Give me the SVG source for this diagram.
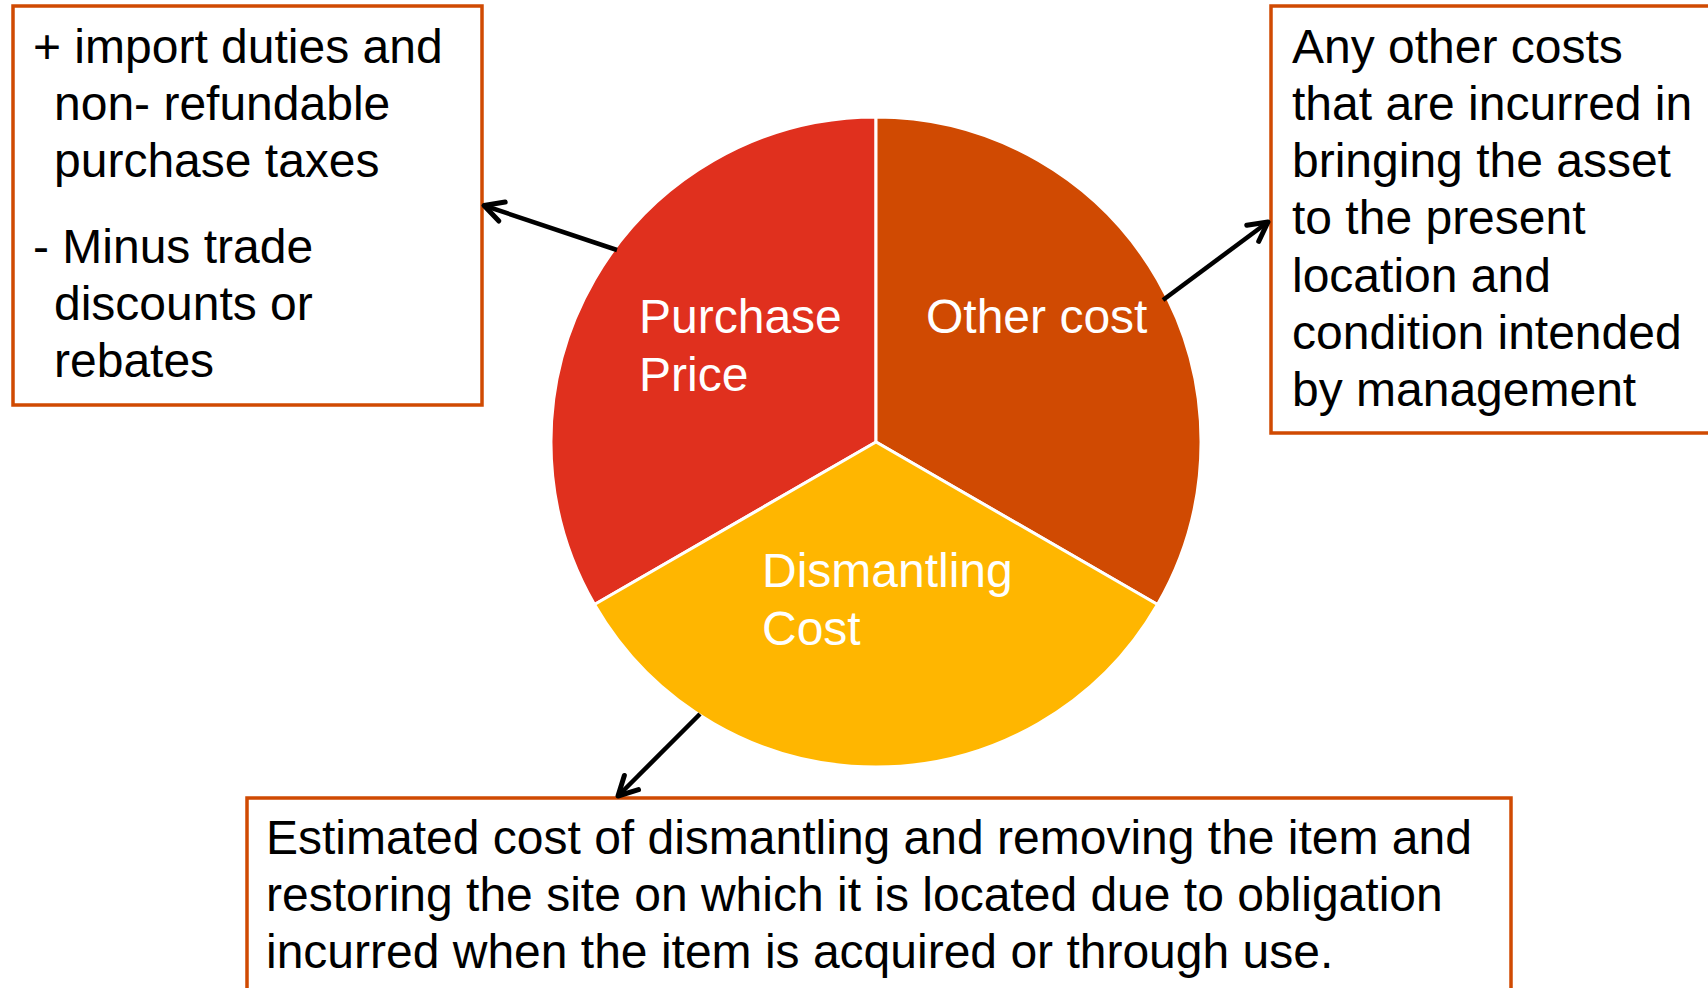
<svg xmlns="http://www.w3.org/2000/svg" width="1708" height="988" viewBox="0 0 1708 988">
  <style>
    .box { fill: #FFFFFF; stroke: #D04A02; stroke-width: 3.5; }
    .txt { font-family: "Liberation Sans", Arial, sans-serif; font-size: 48px; fill: #000000; }
    .lbl { font-family: "Liberation Sans", Arial, sans-serif; font-size: 48px; fill: #FFFFFF; }
    .wedge { stroke: #FFFFFF; stroke-width: 3; stroke-linejoin: miter; }
    .conn { stroke: #000000; stroke-width: 4.5; fill: none; stroke-linecap: butt; }
  </style>
  <defs>
    <marker id="arrow" viewBox="-26 -16 30 32" refX="0" refY="0" markerWidth="30" markerHeight="32" markerUnits="userSpaceOnUse" orient="auto">
      <path d="M-19,-10 L0,0 L-19,10" fill="none" stroke="#000000" stroke-width="5" stroke-linecap="round" stroke-linejoin="round"/>
    </marker>
  </defs>
  <rect width="1708" height="988" fill="#FFFFFF"/>

  <g id="pie">
    <g id="purchase-price">
      <path class="wedge" d="M876,442 L876,117 A325,325 0 0,0 594.5,604.5 Z" fill="#E0301E"/>
      <text class="lbl" x="639" y="333">Purchase</text>
      <text class="lbl" x="639" y="391">Price</text>
    </g>
    <g id="other-cost">
      <path class="wedge" d="M876,442 L876,117 A325,325 0 0,1 1157.5,604.5 Z" fill="#D04A02"/>
      <text class="lbl" x="926" y="333">Other cost</text>
    </g>
    <g id="dismantling-cost">
      <path class="wedge" d="M876,442 L594.5,604.5 A325,325 0 0,0 1157.5,604.5 Z" fill="#FFB600"/>
      <text class="lbl" x="762" y="587">Dismantling</text>
      <text class="lbl" x="762" y="645">Cost</text>
    </g>
  </g>

  <g id="purchase-note">
    <rect class="box" x="13" y="6" width="469" height="399"/>
    <text class="txt" x="33" y="63">+ import duties and</text>
    <text class="txt" x="54" y="120">non- refundable</text>
    <text class="txt" x="54" y="177">purchase taxes</text>
    <text class="txt" x="33" y="263">- Minus trade</text>
    <text class="txt" x="54" y="320">discounts or</text>
    <text class="txt" x="54" y="377">rebates</text>
  </g>

  <g id="other-note">
    <rect class="box" x="1271" y="6" width="445" height="427"/>
    <text class="txt" x="1292" y="63">Any other costs</text>
    <text class="txt" x="1292" y="120">that are incurred in</text>
    <text class="txt" x="1292" y="177">bringing the asset</text>
    <text class="txt" x="1292" y="234">to the present</text>
    <text class="txt" x="1292" y="292">location and</text>
    <text class="txt" x="1292" y="349">condition intended</text>
    <text class="txt" x="1292" y="406">by management</text>
  </g>

  <g id="dismantling-note">
    <rect class="box" x="247" y="798" width="1264" height="200"/>
    <text class="txt" x="266" y="854">Estimated cost of dismantling and removing the item and</text>
    <text class="txt" x="266" y="911">restoring the site on which it is located due to obligation</text>
    <text class="txt" x="266" y="968">incurred when the item is acquired or through use.</text>
  </g>

  <g id="connectors">
    <line class="conn" x1="617" y1="250" x2="484" y2="205.5" marker-end="url(#arrow)"/>
    <line class="conn" x1="1163" y1="300" x2="1268" y2="222" marker-end="url(#arrow)"/>
    <line class="conn" x1="700" y1="714" x2="618" y2="796" marker-end="url(#arrow)"/>
  </g>
</svg>
